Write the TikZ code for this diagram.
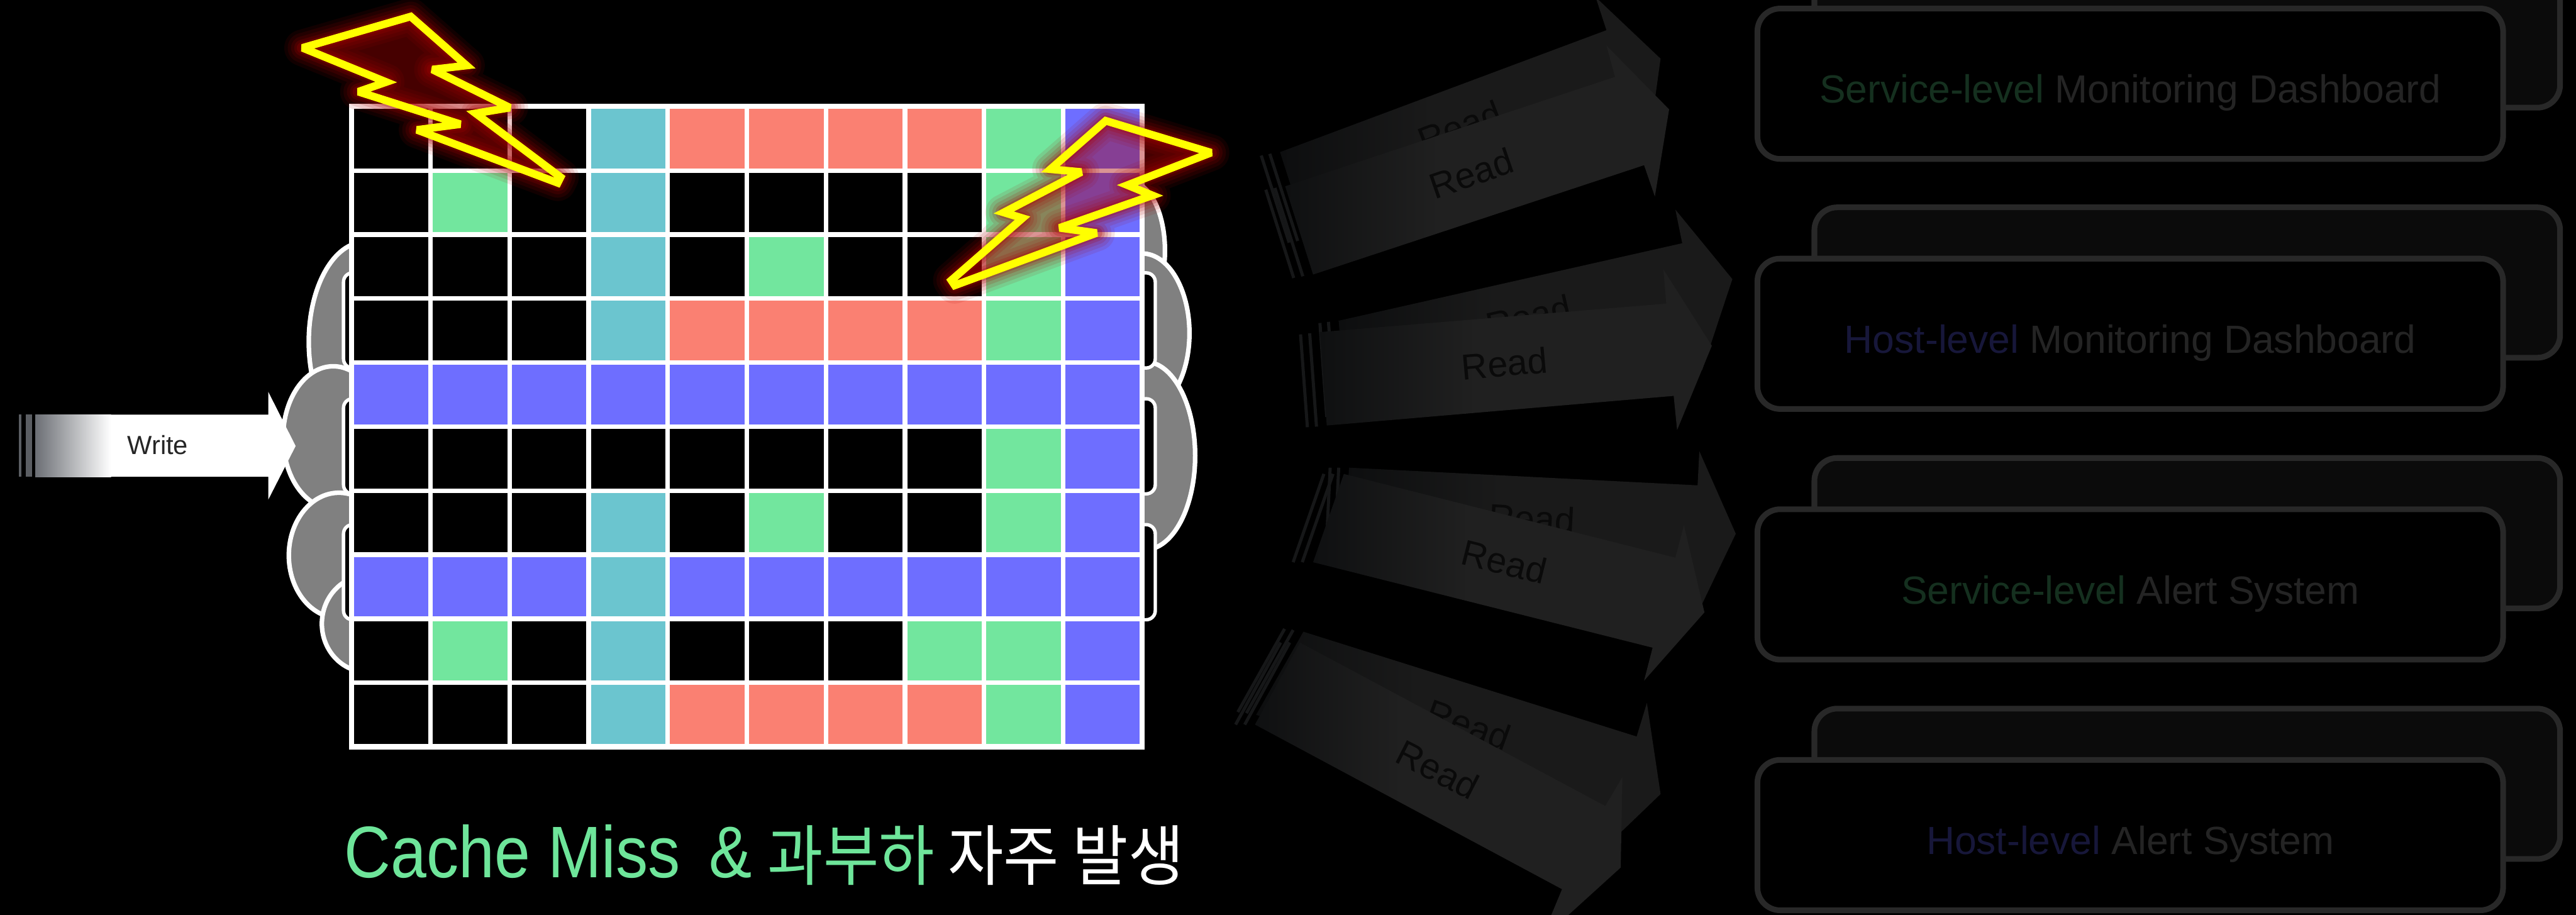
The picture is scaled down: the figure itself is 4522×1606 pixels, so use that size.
\documentclass[tikz,border=0pt]{standalone}
\usepackage{fontspec}
\setmainfont{Liberation Sans}
\newfontfamily\krfont{Noto Sans CJK KR}
\usetikzlibrary{calc}

% grid cell colours
\definecolor{cK}{HTML}{000000}
\definecolor{cR}{HTML}{FA8072}
\definecolor{cG}{HTML}{72E69E}
\definecolor{cC}{HTML}{6BC5CF}
\definecolor{cB}{HTML}{6E6EFF}
% other colours
\definecolor{cloudgray}{HTML}{808080}
\definecolor{boltyellow}{HTML}{FFFF00}
\definecolor{boltred}{HTML}{A80000}
\definecolor{readlight}{HTML}{202020}
\definecolor{readdark}{HTML}{0F1011}
\definecolor{backlight}{HTML}{1A1A1A}
\definecolor{backdark}{HTML}{0D0E0F}
\definecolor{readstripe}{HTML}{161718}
\definecolor{readtext}{HTML}{0A0A0A}
\definecolor{boxline}{HTML}{282828}
\definecolor{boxback}{HTML}{0B0B0B}
\definecolor{boxtext}{HTML}{242424}
\definecolor{svcgreen}{HTML}{15301F}
\definecolor{hostnavy}{HTML}{17173A}
\definecolor{captiongreen}{HTML}{6EE59A}
\definecolor{writegray}{HTML}{6C6F75}
\definecolor{stripegray}{HTML}{5B5E63}
\definecolor{writetext}{HTML}{262626}

\pgfdeclarehorizontalshading{readfront}{100bp}{color(0bp)=(readdark); color(25bp)=(readdark); color(45bp)=(readlight); color(100bp)=(readlight)}
\pgfdeclarehorizontalshading{readback}{100bp}{color(0bp)=(backdark); color(25bp)=(backdark); color(45bp)=(backlight); color(100bp)=(backlight)}

% lightning bolt outlines
\newcommand{\boltonepath}[1]{\path[#1] (721,29) -- (819,115) -- (759,122) -- (895,189) -- (835,199) -- (984,311) -- (979,321) -- (732,228) -- (808,218) -- (629,161) -- (678,144) -- (531,84) -- cycle;}
\newcommand{\bolttwopath}[1]{\path[#1] (1941,212) -- (2126,268) -- (1979,325) -- (2023,343) -- (1860,400) -- (1925,409) -- (1676,501) -- (1670,492) -- (1795,383) -- (1762,373) -- (1898,302) -- (1844,297) -- cycle;}
\newcommand{\drawbolt}[1]{%
  \foreach \w/\o in {6.4/0.10,5.2/0.12,4/0.15,2.9/0.2,2/0.25}{#1{draw=boltred, line width=\w mm, draw opacity=\o, line join=round}}
  #1{fill=boltred, fill opacity=0.42}
  #1{draw=boltyellow, line width=1.35mm, line join=miter, miter limit=3}
}

\tikzset{
  bump/.style={fill=cloudgray, draw=white, line width=0.8mm},
  bracketbox/.style={fill=black, draw=white, line width=0.6mm, rounded corners=1.6mm},
  gridline/.style={draw=white, line width=0.8mm},
  readlabel/.style={text=readtext, font=\fontsize{18pt}{20pt}\selectfont, inner sep=0pt},
  stripe/.style={draw=readstripe, line width=0.55mm},
  boxfront/.style={draw=boxline, line width=1mm, fill=black, rounded corners=4mm,
    minimum width=130.9mm, minimum height=26.4mm, text height=6.8mm, text depth=0mm,
    text=boxtext, font=\fontsize{19.6pt}{22pt}\selectfont},
  boxbehind/.style={draw=boxline, line width=1mm, fill=boxback, rounded corners=4mm,
    minimum width=130.9mm, minimum height=26.4mm},
}

\begin{document}
\begin{tikzpicture}[x=0.1mm, y=-0.1mm]
\fill[black] (0,0) rectangle (4522,1606);
\useasboundingbox (0,0) rectangle (4522,1606);

% cloud behind the cache grid, left side
\path[bump] (640,600) ellipse [x radius=9.8mm, y radius=17.5mm];
\path[bump] (585,768) ellipse [x radius=8.8mm, y radius=12.5mm];
\path[bump] (595,975) ellipse [x radius=8.8mm, y radius=11mm];
\path[bump] (645,1095) ellipse [x radius=8mm, y radius=8.5mm];
% cloud, right side
\path[bump] (1985,440) ellipse [x radius=6mm, y radius=12mm];
\path[bump] (2005,585) ellipse [x radius=8.3mm, y radius=14mm];
\path[bump] (2010,800) ellipse [x radius=8.8mm, y radius=16.5mm];

% stacked slabs peeking out behind the grid
\path[bracketbox] (603,479) rectangle (2028,646);
\path[bracketbox] (603,700) rectangle (2028,867);
\path[bracketbox] (603,921) rectangle (2028,1088);

% cache grid cells
\foreach \ri/\row in {0/{K,K,K,C,R,R,R,R,G,B},1/{K,G,K,C,K,K,K,K,G,B},2/{K,K,K,C,K,G,K,K,G,B},3/{K,K,K,C,R,R,R,R,G,B},4/{B,B,B,B,B,B,B,B,B,B},5/{K,K,K,K,K,K,K,K,G,B},6/{K,K,K,C,K,G,K,K,G,B},7/{B,B,B,C,B,B,B,B,B,B},8/{K,G,K,C,K,K,K,G,G,B},9/{K,K,K,C,R,R,R,R,G,B}}{
  \foreach \cl [count=\ci from 0] in \row {
    \fill[fill=c\cl] ({617+\ci*138.8},{187+\ri*112.4}) rectangle ++(138.8,112.4);
  }
}
% grid lines
\foreach \k in {1,...,9}{
  \draw[gridline] ({617+\k*138.8},187) -- ({617+\k*138.8},1311);
  \draw[gridline] (617,{187+\k*112.4}) -- (2005,{187+\k*112.4});
}
\draw[gridline, line width=0.9mm] (617,187) rectangle (2005,1311);

% lightning bolts
\drawbolt{\boltonepath}
\drawbolt{\bolttwopath}

% write arrow
\fill[white] (62,728) -- (471,728) -- (471,688) -- (519,783) -- (471,877) -- (471,837) -- (62,837) -- cycle;
\shade[left color=writegray, right color=white] (62,728) rectangle (195,837);
\fill[stripegray] (33,728) rectangle (38,837);
\fill[stripegray] (45,728) rectangle (56,837);
\node[text=writetext, font=\fontsize{13.1pt}{15pt}\selectfont, inner sep=0pt] (write) at (277,781) {Write};

% read arrows, group 1
\shade[shading=readback] (2247,267) -- (2820,53) -- (2801,-5) -- (2915,103) -- (2893,262) -- (2872,205) -- (2296,420) -- cycle;
\draw[stripe] (2229,270) -- (2278,423);
\draw[stripe] (2214,273) -- (2263,426);
\node[readlabel, rotate=21] (readb1) at (2562,222) {Read};
\shade[shading=readfront] (2256,327) -- (2835,135) -- (2820,80) -- (2930,192) -- (2905,345) -- (2886,290) -- (2305,482) -- cycle;
\draw[stripe] (2238,330) -- (2287,485);
\draw[stripe] (2222,333) -- (2271,488);
\node[readlabel, rotate=19] (readf1) at (2583,304) {Read};

% read arrows, group 2
\shade[shading=readback] (2350,563) -- (2953,427) -- (2941,368) -- (3041,490) -- (2988,650) -- (2962,600) -- (2362,728) -- cycle;
\draw[stripe] (2332,565) -- (2344,730);
\draw[stripe] (2317,567) -- (2329,732);
\node[readlabel, rotate=13] (readb2) at (2683,555) {Read};
\shade[shading=readfront] (2317,583) -- (2925,533) -- (2920,473) -- (3005,607) -- (2944,755) -- (2938,695) -- (2329,747) -- cycle;
\draw[stripe] (2299,585) -- (2311,749);
\draw[stripe] (2283,587) -- (2295,750);
\node[readlabel, rotate=5] (readf2) at (2641,638) {Read};

% read arrows, group 3
\shade[shading=readback] (2368,821) -- (2980,852) -- (2983,792) -- (3047,937) -- (2988,1060) -- (2975,1010) -- (2360,985) -- cycle;
\draw[stripe] (2350,821) -- (2342,985);
\draw[stripe] (2335,821) -- (2327,985);
\node[readlabel, rotate=-3] (readb3) at (2689,910) {Read};
\shade[shading=readfront] (2359,832) -- (2941,979) -- (2956,922) -- (2992,1075) -- (2886,1195) -- (2901,1137) -- (2305,987) -- cycle;
\draw[stripe] (2340,832) -- (2286,987);
\draw[stripe] (2324,832) -- (2270,987);
\node[readlabel, rotate=-14] (readf3) at (2641,986) {Read};

% read arrows, group 4
\shade[shading=readback] (2288,1109) -- (2873,1293) -- (2891,1234) -- (2915,1394) -- (2815,1490) -- (2810,1440) -- (2205,1255) -- cycle;
\draw[stripe] (2270,1106) -- (2188,1252);
\draw[stripe] (2255,1104) -- (2173,1250);
\node[readlabel, rotate=-20] (readb4) at (2578,1272) {Read};
\shade[shading=readfront] (2282,1128) -- (2818,1415) -- (2848,1364) -- (2845,1523) -- (2705,1650) -- (2742,1561) -- (2203,1272) -- cycle;
\draw[stripe] (2264,1128) -- (2185,1272);
\draw[stripe] (2248,1128) -- (2169,1272);
\node[readlabel, rotate=-27] (readf4) at (2524,1351) {Read};

% consumer boxes
\node[boxbehind] (dashsvcback) at (3839.5,57) {};
\node[boxfront] (dashsvc) at (3739.5,147) {\textcolor{svcgreen}{Service-level} Monitoring Dashboard};
\node[boxbehind] (dashhostback) at (3839.5,496) {};
\node[boxfront] (dashhost) at (3739.5,586) {\textcolor{hostnavy}{Host-level} Monitoring Dashboard};
\node[boxbehind] (alertsvcback) at (3839.5,936) {};
\node[boxfront] (alertsvc) at (3739.5,1026) {\textcolor{svcgreen}{Service-level} Alert System};
\node[boxbehind] (alerthostback) at (3839.5,1376) {};
\node[boxfront] (alerthost) at (3739.5,1466) {\textcolor{hostnavy}{Host-level} Alert System};

% caption
\node[anchor=base west, inner sep=0pt, text=captiongreen, font=\fontsize{36.5pt}{40pt}\selectfont, xscale=0.88] (capmiss) at (604,1541) {Cache Miss};
\node[anchor=base west, inner sep=0pt, text=captiongreen, font=\fontsize{36.5pt}{40pt}\selectfont, xscale=0.88] (capamp) at (1244,1541) {\&};
\node[anchor=base west, inner sep=0pt, text=captiongreen, font=\krfont\fontsize{33pt}{38pt}\selectfont, xscale=0.915] (capkr) at (1347,1545) {과부하 \textcolor{white}{자주 발생}};
\end{tikzpicture}
\end{document}
